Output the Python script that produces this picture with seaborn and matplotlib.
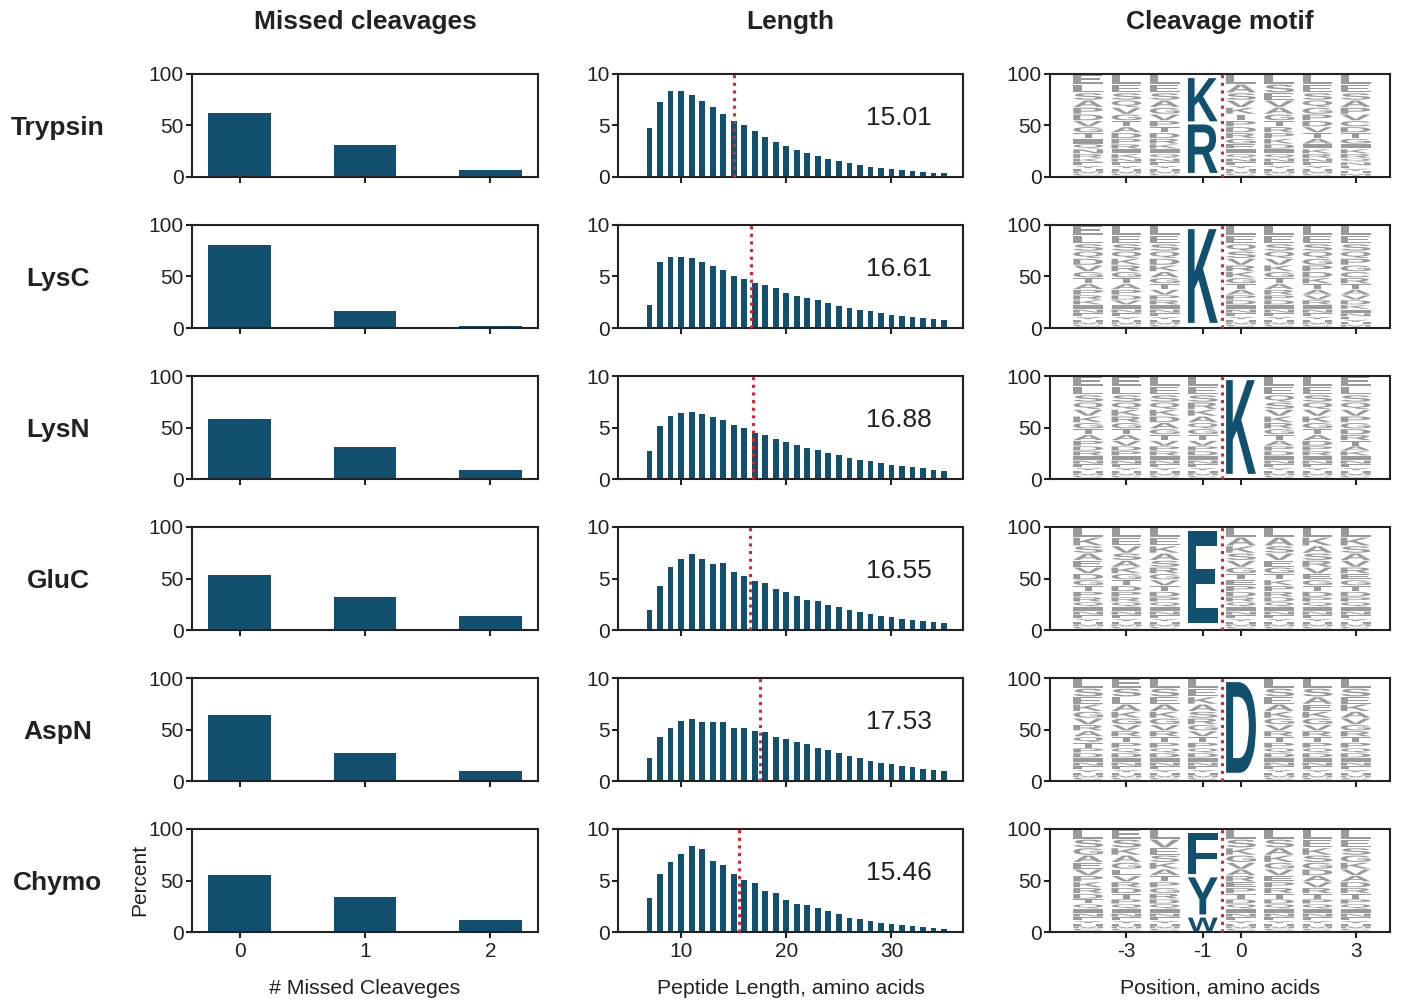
import matplotlib
matplotlib.use("Agg")
import matplotlib.pyplot as plt
import matplotlib.transforms as mtransforms
from matplotlib.font_manager import FontProperties
from matplotlib.patches import PathPatch
from matplotlib.textpath import TextPath
import pandas as pd
import seaborn as sns

# ---------------------------------------------------------------- data
ENZYMES = ["Trypsin", "LysC", "LysN", "GluC", "AspN", "Chymo"]

# Missed cleavages (% of peptides with 0, 1, 2 missed sites)
MISSED_SITES = [0, 1, 2]
TRYPSIN_MISSED = [61.7, 31.2, 7.1]
LYSC_MISSED = [80.9, 16.8, 2.3]
LYSN_MISSED = [58.4, 31.3, 9.0]
GLUC_MISSED = [53.4, 32.2, 13.8]
ASPN_MISSED = [64.3, 26.7, 9.3]
CHYMO_MISSED = [55.8, 33.5, 11.3]

# Peptide length distribution (% of peptides, lengths 7..35)
LENGTHS = list(range(7, 36))
TRYPSIN_LEN = [4.8, 7.24, 8.31, 8.31, 7.92, 7.34, 6.75, 6.07, 5.39, 5.0,
               4.45, 3.93, 3.44, 3.05, 2.66, 2.37, 2.08, 1.79, 1.59, 1.36,
               1.2, 1.0, 0.91, 0.81, 0.71, 0.62, 0.52, 0.42, 0.42]
LYSC_LEN = [2.26, 6.42, 6.9, 6.9, 6.8, 6.42, 6.03, 5.65, 5.06, 4.77,
            4.39, 4.19, 3.9, 3.42, 3.13, 2.94, 2.74, 2.45, 2.16, 1.97,
            1.77, 1.68, 1.48, 1.29, 1.19, 1.1, 1.0, 0.9, 0.81]
LYSN_LEN = [2.74, 5.16, 6.13, 6.42, 6.52, 6.32, 6.03, 5.74, 5.26, 4.97,
            4.48, 4.29, 3.9, 3.61, 3.32, 3.03, 2.84, 2.55, 2.35, 2.06,
            1.87, 1.77, 1.58, 1.39, 1.29, 1.19, 1.1, 0.9, 0.81]
GLUC_LEN = [1.9, 4.31, 6.14, 6.91, 7.4, 6.91, 6.43, 6.53, 5.66, 5.27,
            4.79, 4.6, 4.02, 3.73, 3.34, 2.96, 2.77, 2.38, 2.19, 1.99,
            1.7, 1.51, 1.32, 1.22, 1.03, 0.93, 0.84, 0.74, 0.64]
ASPN_LEN = [2.19, 4.23, 5.19, 5.87, 6.06, 5.77, 5.68, 5.77, 5.19, 5.1,
            4.81, 4.71, 4.32, 4.03, 3.74, 3.55, 3.16, 2.97, 2.68, 2.39,
            2.19, 1.9, 1.71, 1.61, 1.42, 1.32, 1.13, 1.03, 0.94]
CHYMO_LEN = [3.33, 5.66, 6.83, 7.6, 8.38, 8.03, 6.93, 6.54, 5.66, 5.08,
             4.79, 4.01, 3.82, 3.14, 2.75, 2.65, 2.36, 2.07, 1.78, 1.39,
             1.29, 1.1, 0.91, 0.81, 0.71, 0.62, 0.52, 0.42, 0.32]
MEAN_LENGTH = [15.01, 16.61, 16.88, 16.55, 17.53, 15.46]

# Cleavage motif: residue positions around the cleaved bond
MOTIF_POSITIONS = [-4, -3, -2, -1, 0, 1, 2, 3]
MOTIF_TICKS = [-3, -1, 0, 3]
# background residue frequencies (%), largest drawn on top of each stack
BACKGROUND_PCT = [9.96, 8.33, 7.10, 7.00, 6.57, 6.31, 5.96, 5.72, 5.64, 5.36,
                  4.77, 4.73, 4.33, 3.65, 3.59, 2.66, 2.63, 2.30, 2.13, 1.22]
# residue order (top to bottom) at each non-specific position
TRYPSIN_ORDER = ["ELSAPDVGTIQNRKFYHMCW", "LESQVGTADPRIKNFYHMCW",
                 "LESAGVPTDRKIQNFYHMCW", "LASVKTPDRGEIQNFYHMCW",
                 "LSEVAGTRPKDIQNFYHMCW", "LESQGPDVTAIKRNFYHMCW",
                 "LESAPVCDTGIKRQNFYHMW"]
LYSC_ORDER = ["ELSQDVGTAPRKINFYHMCW", "LESQKRGTAPDVINFYHMCW",
              "LESQDKAGTVPRINFYHMCW", "LEQSVRKGTAPDINFYHMCW",
              "LESQVKGTARPDINFYHMCW", "LESQGPDKTAVRINFYHMCW",
              "LESQPGCRTAVDKINFYHMW"]
LYSN_ORDER = ["ELSQVKGTAPDRINFYHMCW", "ELSQKRGTAVDPINFYHMCW",
              "LESQKDAGTVPRINFYHMCW", "LESRKAQGTVPDINFYHMCW",
              "LEQSVKRGTAPDINFYHMCW", "LESQVKGTADPRINFYHMCW",
              "ELSQVPGDRTAKINFYHMCW"]
GLUC_ORDER = ["LKSAEVDGTPRQINFYHMCW", "LEVSAKGTDPRQINFYHMCW",
              "LEKASRGVTDPQINFYHMCW", "LAKSVGTEPDRQINFYHMCW",
              "LASVEGTKPRDQINFYHMCW", "LKASRVEGTDPQINFYHMCW",
              "LKSAVREGTDPQINFYHMCW"]
ASPN_ORDER = ["LSEKGVRAQTPDINFYHMCW", "ESLAKGVRTPQDINFYHMCW",
              "LSEAKGVRTPQDINFYHMCW", "LEKASRGVTPQDINFYHMCW",
              "LSEAKGVRTPQDINFYHMCW", "LSAEKGVRTPQDINFYHMCW",
              "LSEKAVGRTPQDINFYHMCW"]
CHYMO_ORDER = ["LSGAEVPKRDTQINFYHMCW", "ESKAGLVRDTPQINFYHMCW",
               "LVESKATPGRDQINFYHMCW", "LSKGVAREPTDQINFYHMCW",
               "LSAKGVEPRTDQINFYHMCW", "LEKSGDAVRTPQINFYHMCW",
               "LESGKVADRTPQINFYHMCW"]
# specific residues at the cleavage site (top to bottom) and their heights (%)
SITE_POSITION = [-1, -1, 0, -1, 0, -1]
SITE_RESIDUES = [["K", "R"], ["K"], ["K"], ["E"], ["D"], ["F", "Y", "W"]]
SITE_PCT = [[42, 47], [91], [91], [89], [88], [40, 36, 13]]

# ---------------------------------------------------------------- style
BAR_COLOR = "#11506f"
LOGO_GRAY = "#9a9a9a"
MEAN_COLOR = "#ee1c24"
INK = "#222222"

sns.set_theme(style="ticks")
plt.rcParams["font.family"] = ["Liberation Sans", "DejaVu Sans"]
plt.rcParams.update({
    "axes.unicode_minus": False,
    "axes.edgecolor": INK,
    "axes.linewidth": 1.5,
    "xtick.color": INK,
    "ytick.color": INK,
    "xtick.labelcolor": INK,
    "ytick.labelcolor": INK,
    "xtick.major.width": 1.5,
    "ytick.major.width": 1.5,
    "xtick.major.size": 4.5,
    "ytick.major.size": 4.0,
    "xtick.major.pad": 3,
    "ytick.major.pad": 2,
    "xtick.labelsize": 15,
    "ytick.labelsize": 15,
    "text.color": INK,
})

LOGO_FONT = FontProperties(family="Liberation Sans", weight="bold")


def draw_glyph(ax, letter, x_center, y_bottom, height, width, color):
    """Draw a letter stretched to fill a width x height box in data units."""
    tp = TextPath((0, 0), letter, size=1, prop=LOGO_FONT)
    bb = tp.get_extents()
    tr = (mtransforms.Affine2D()
          .translate(-bb.x0, -bb.y0)
          .scale(width / bb.width, height / bb.height)
          .translate(x_center - width / 2, y_bottom))
    ax.add_patch(PathPatch(tr.transform_path(tp), facecolor=color,
                           edgecolor="none", linewidth=0))


W_PX, H_PX = 1405, 1005
fig = plt.figure(figsize=(W_PX / 100, H_PX / 100), dpi=100)


def px_axes(left, top, width, height):
    return fig.add_axes([left / W_PX, 1 - (top + height) / H_PX,
                         width / W_PX, height / H_PX])


missed = [TRYPSIN_MISSED, LYSC_MISSED, LYSN_MISSED, GLUC_MISSED,
          ASPN_MISSED, CHYMO_MISSED]
lengths = [TRYPSIN_LEN, LYSC_LEN, LYSN_LEN, GLUC_LEN, ASPN_LEN, CHYMO_LEN]
orders = [TRYPSIN_ORDER, LYSC_ORDER, LYSN_ORDER, GLUC_ORDER, ASPN_ORDER,
          CHYMO_ORDER]

ROW_TOP, ROW_STEP, ROW_H = 74, 151, 103
COLS = [(192, 346), (618, 345), (1050, 340)]
LETTER_W = 0.78
DOTTED = (0, (1, 1.5))

for i, enzyme in enumerate(ENZYMES):
    top = ROW_TOP + i * ROW_STEP
    last = i == len(ENZYMES) - 1

    # --- missed cleavages
    ax = px_axes(COLS[0][0], top, COLS[0][1], ROW_H)
    df = pd.DataFrame({"missed": MISSED_SITES, "pct": missed[i]})
    sns.barplot(data=df, x="missed", y="pct", ax=ax, native_scale=True,
                color=BAR_COLOR, saturation=1, width=0.5, errorbar=None,
                linewidth=0, edgecolor="none")
    ax.set_xlim(-0.38, 2.38)
    ax.set_ylim(0, 100)
    ax.set_xticks(MISSED_SITES)
    ax.set_yticks([0, 50, 100])
    ax.set_xlabel("")
    ax.set_ylabel("")
    ax.tick_params(labelbottom=last)

    # --- peptide length
    ax = px_axes(COLS[1][0], top, COLS[1][1], ROW_H)
    df = pd.DataFrame({"length": LENGTHS, "pct": lengths[i]})
    sns.barplot(data=df, x="length", y="pct", ax=ax, native_scale=True,
                color=BAR_COLOR, saturation=1, width=0.55, errorbar=None,
                linewidth=0, edgecolor="none")
    ax.plot([MEAN_LENGTH[i], MEAN_LENGTH[i]], [0, 10], color=MEAN_COLOR,
            linewidth=2.2, linestyle=DOTTED, zorder=3, clip_on=False)
    ax.text(0.815, 0.575, f"{MEAN_LENGTH[i]:.2f}", transform=ax.transAxes,
            ha="center", va="center", fontsize=19, color=INK)
    ax.set_xlim(4, 36.8)
    ax.set_ylim(0, 10)
    ax.set_xticks([10, 20, 30])
    ax.set_yticks([0, 5, 10])
    ax.set_xlabel("")
    ax.set_ylabel("")
    ax.tick_params(labelbottom=last)

    # --- cleavage motif logo
    ax = px_axes(COLS[2][0], top, COLS[2][1], ROW_H)
    gray_positions = [p for p in MOTIF_POSITIONS if p != SITE_POSITION[i]]
    for pos, order in zip(gray_positions, orders[i]):
        y = 100.0
        for letter, pct in zip(order, BACKGROUND_PCT):
            y -= pct
            pad = min(0.4, pct * 0.12)
            draw_glyph(ax, letter, pos, y + pad, pct - 2 * pad, LETTER_W,
                       LOGO_GRAY)
    y = 96.0
    for letter, pct in zip(SITE_RESIDUES[i], SITE_PCT[i]):
        y -= pct
        draw_glyph(ax, letter, SITE_POSITION[i], y, pct, LETTER_W, BAR_COLOR)
        y -= 3
    ax.plot([-0.5, -0.5], [0, 100], color=MEAN_COLOR, linewidth=2.2,
            linestyle=DOTTED, zorder=3, clip_on=False)
    ax.set_xlim(-5, 3.9)
    ax.set_ylim(0, 100)
    ax.set_xticks(MOTIF_TICKS)
    ax.set_yticks([0, 50, 100])
    ax.tick_params(labelbottom=last)

    for a in fig.axes[-3:]:
        for side in ("top", "right"):
            a.spines[side].set_visible(True)

    # row label
    fig.text(58 / W_PX, 1 - (top + 54) / H_PX, enzyme, ha="center",
             va="center", fontsize=19, fontweight="bold")

# column titles
for (left, width), title in zip(COLS, ["Missed cleavages", "Length",
                                       "Cleavage motif"]):
    fig.text((left + width / 2) / W_PX, 1 - 22 / H_PX, title, ha="center",
             va="center", fontsize=19, fontweight="bold")

# axis titles along the bottom
for (left, width), label in zip(COLS, ["# Missed Cleaveges",
                                       "Peptide Length, amino acids",
                                       "Position, amino acids"]):
    fig.text((left + width / 2) / W_PX, 1 - 988 / H_PX, label, ha="center",
             va="center", fontsize=15.3)

fig.text(140 / W_PX, 1 - 880 / H_PX, "Percent", rotation=90, ha="center",
         va="center", fontsize=15)

fig.savefig("out.png", dpi=100)
